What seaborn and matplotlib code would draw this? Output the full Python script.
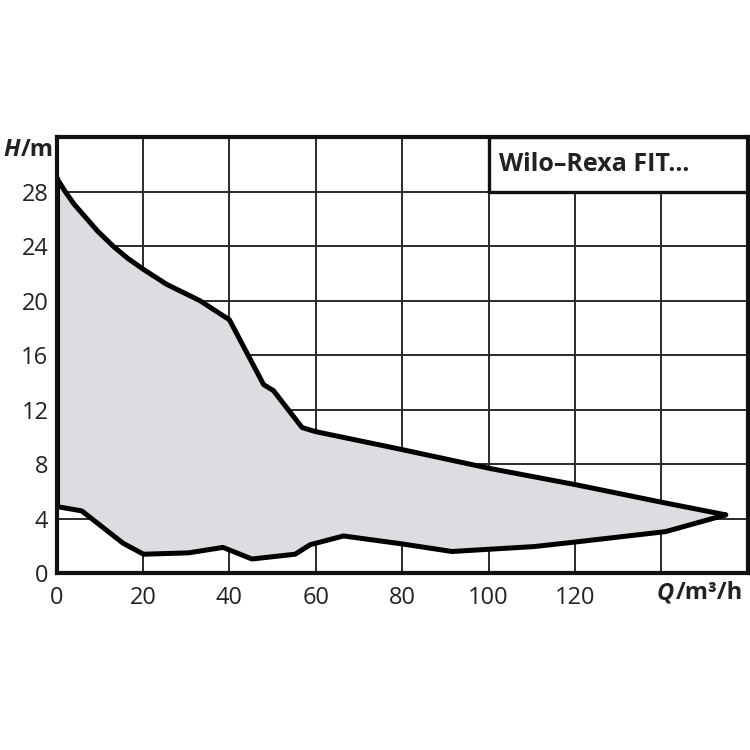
import matplotlib
matplotlib.use("Agg")
import matplotlib.pyplot as plt
import seaborn as sns
import pandas as pd
from matplotlib.patches import Rectangle

# pump curve envelope
q_max = [0, 2, 4, 6.2, 9.5, 13.1, 16.5, 20.1, 25.5, 33.2, 40.0, 47.9, 50.2, 56.8, 59.9, 80.1, 100.2, 120.2, 140.3, 154.9]
h_max = [29.0, 28.0, 27.1, 26.3, 25.1, 24.0, 23.1, 22.3, 21.2, 20.0, 18.6, 13.85, 13.4, 10.7, 10.4, 9.07, 7.7, 6.5, 5.2, 4.29]
q_min = [0, 5.8, 15.4, 20.1, 30.5, 38.5, 45.2, 55.2, 58.7, 66.4, 80.1, 91.5, 110.5, 120.2, 141.0, 154.9]
h_min = [4.9, 4.58, 2.2, 1.4, 1.5, 1.9, 1.05, 1.4, 2.1, 2.74, 2.15, 1.6, 1.96, 2.3, 3.06, 4.29]

x_ticks = [0, 20, 40, 60, 80, 100, 120]
y_ticks = [0, 4, 8, 12, 16, 20, 24, 28]
title = "Wilo\u2013Rexa FIT..."

sns.set_style("white")
plt.rcParams["font.family"] = ["Open Sans", "DejaVu Sans"]

fig = plt.figure(figsize=(7.5, 7.5), dpi=100)
ax = fig.add_axes([0.0756, 0.2356, 0.9214, 0.5814])

upper = pd.DataFrame({"Q": q_max, "H": h_max})
lower = pd.DataFrame({"Q": q_min, "H": h_min})

# shaded area between the two curves
ax.fill(q_max + q_min[::-1], h_max + h_min[::-1], color="#dcdde0", zorder=2, lw=0)

sns.lineplot(data=upper, x="Q", y="H", sort=False, color="black", lw=3.6, ax=ax, zorder=4)
sns.lineplot(data=lower, x="Q", y="H", sort=False, color="black", lw=3.6, ax=ax, zorder=4)
ax.plot([q_max[0], q_min[0]], [h_max[0], h_min[0]], color="black", lw=3.6, zorder=4)

ax.set_xlim(0, 160)
ax.set_ylim(0, 32)
ax.set_xticks(range(0, 161, 20))
ax.set_yticks(range(0, 33, 4))
ax.grid(True, color="#2a2a2a", lw=1.4, zorder=1)
ax.set_axisbelow(True)
ax.tick_params(axis="both", length=0, labelsize=17, colors="#222222")
ax.tick_params(axis="x", pad=9)
ax.tick_params(axis="y", pad=6)
ax.set_xticklabels([str(v) if v in x_ticks else "" for v in range(0, 161, 20)])
ax.set_yticklabels([str(v) if v in y_ticks else "" for v in range(0, 33, 4)])
ax.set_xlabel("")
ax.set_ylabel("")
for sp in ax.spines.values():
    sp.set_visible(True)
    sp.set_color("#111111")
    sp.set_linewidth(3)
    sp.set_zorder(5)

# title box in the upper right corner
ax.add_patch(Rectangle((100, 28), 60, 4, facecolor="white", edgecolor="#111111",
                       lw=2.4, zorder=3, clip_on=False))
ax.text(102.3, 30, title, fontsize=18, fontweight="bold", va="center", ha="left",
        color="#222222", zorder=6)

# axis unit labels: italic symbol followed by the unit
h_sym = fig.text(0.004, 0.800, "H", fontsize=17, fontweight="bold", fontstyle="italic",
                 va="center", ha="left", color="#222222")
ax.annotate("/m", xy=(1, 0.5), xycoords=h_sym, xytext=(1, 0), textcoords="offset points",
            fontsize=17, fontweight="bold", va="center", ha="left", color="#222222",
            annotation_clip=False)
q_sym = fig.text(0.876, 0.209, "Q", fontsize=17, fontweight="bold", fontstyle="italic",
                 va="center", ha="left", color="#222222")
ax.annotate("/m\u00b3/h", xy=(1, 0.5), xycoords=q_sym, xytext=(1, 0), textcoords="offset points",
            fontsize=17, fontweight="bold", va="center", ha="left", color="#222222",
            annotation_clip=False)

fig.savefig("out.png", dpi=100)
